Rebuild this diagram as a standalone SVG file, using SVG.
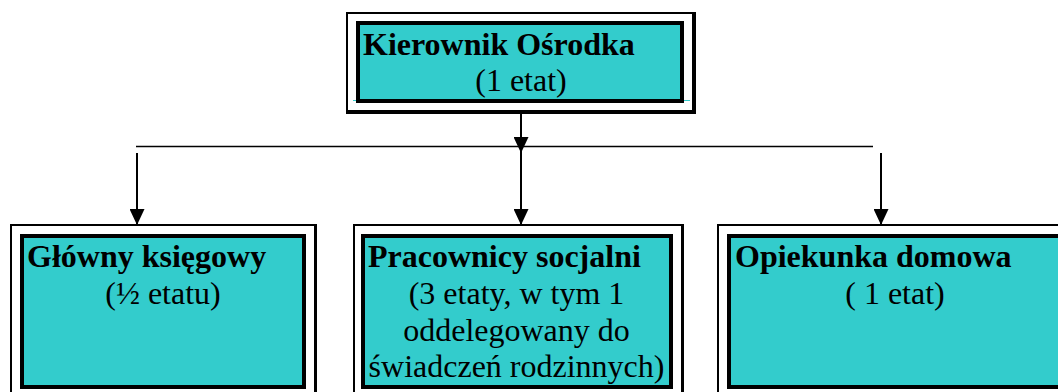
<svg xmlns="http://www.w3.org/2000/svg" width="1058" height="392" viewBox="0 0 1058 392">
  <style>
    .frame { fill: #000000; fill-rule: evenodd; }
    .box { fill: #33cccc; stroke: #000000; stroke-width: 4; }
    .title { font-family: "Liberation Serif", "Times New Roman", serif; font-size: 32px; font-weight: bold; fill: #000000; }
    .sub { font-family: "Liberation Serif", "Times New Roman", serif; font-size: 32px; fill: #000000; text-anchor: middle; }
    .conn { stroke: #000000; fill: none; }
  </style>
  <defs>
    <marker id="arrow" markerUnits="userSpaceOnUse" markerWidth="16" markerHeight="15" refX="16" refY="7.5" orient="auto">
      <path d="M0,0 L16,7.5 L0,15 Z" fill="#000000"/>
    </marker>
  </defs>
  <rect width="1058" height="392" fill="#ffffff"/>

  <g id="kierownik">
    <path class="frame" d="M346,12 H696 V114 H346 Z M348,14 V110 H692 V14 Z"/>
    <line x1="353" y1="100.5" x2="690" y2="100.5" stroke="#33cccc" stroke-width="1"/>
    <rect class="box" x="358" y="23" width="324" height="78"/>
    <text class="title" x="363" y="55">Kierownik Ośrodka</text>
    <text class="sub" x="521" y="91">(1 etat)</text>
  </g>

  <g id="ksiegowy">
    <path class="frame" d="M10,224 H317 V400 H10 Z M12,226 V400 H314 V226 Z"/>
    <rect class="box" x="22" y="236" width="282" height="151"/>
    <text class="title" x="27" y="267">Główny księgowy</text>
    <text class="sub" x="163" y="304">(½ etatu)</text>
  </g>

  <g id="pracownicy">
    <path class="frame" d="M353,224 H684 V400 H353 Z M355,226 V400 H681 V226 Z"/>
    <rect class="box" x="363" y="236" width="308" height="151"/>
    <text class="title" x="368" y="267">Pracownicy socjalni</text>
    <text class="sub" x="516.5" y="304">(3 etaty, w tym 1</text>
    <text class="sub" x="516.5" y="341">oddelegowany do</text>
    <text class="sub" x="516.5" y="377">świadczeń rodzinnych)</text>
  </g>

  <g id="opiekunka">
    <path class="frame" d="M717,224 H1070 V400 H717 Z M719,226 V400 H1068 V226 Z"/>
    <rect class="box" x="729" y="236" width="335" height="151"/>
    <text class="title" x="735" y="267">Opiekunka domowa</text>
    <text class="sub" x="895" y="304">( 1 etat)</text>
  </g>

  <g id="connectors">
    <line class="conn" x1="136" y1="146.5" x2="873" y2="146.5" stroke-width="1.5"/>
    <line class="conn" x1="521" y1="114" x2="521" y2="153" stroke-width="2" marker-end="url(#arrow)"/>
    <line class="conn" x1="521" y1="153" x2="521" y2="225" stroke-width="2" marker-end="url(#arrow)"/>
    <line class="conn" x1="137" y1="153" x2="137" y2="225" stroke-width="2" marker-end="url(#arrow)"/>
    <line class="conn" x1="881" y1="153" x2="881" y2="225" stroke-width="2" marker-end="url(#arrow)"/>
  </g>
</svg>
